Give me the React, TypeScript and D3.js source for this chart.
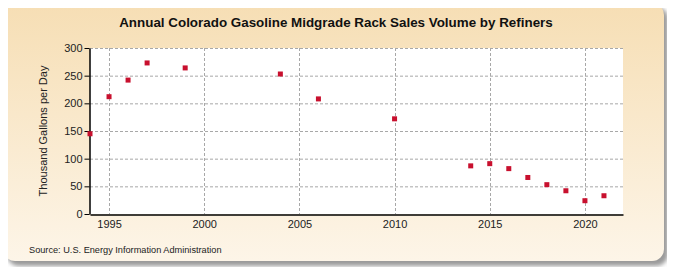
import React, { useEffect, useRef } from "react";
import * as d3 from "d3";

const years = [1994, 1995, 1996, 1997, 1999, 2004, 2006, 2010, 2014, 2015, 2016, 2017, 2018, 2019, 2020, 2021];
const volumes = [145, 212, 242, 273, 264, 253, 208, 172, 87, 91, 82, 66, 53, 42, 24, 33];
const yearTicks = [1995, 2000, 2005, 2010, 2015, 2020];
const valueTicks = [0, 50, 100, 150, 200, 250, 300];

const App = () => {
  const container = useRef<HTMLDivElement>(null);

  useEffect(() => {
    const width = 675;
    const height = 275;
    const marginLeft = 90;
    const marginRight = 52;
    const marginTop = 48;
    const marginBottom = 61;

    const x = d3.scaleLinear().domain([1994, 2022]).range([marginLeft, width - marginRight]);
    const y = d3.scaleLinear().domain([0, 300]).range([height - marginBottom, marginTop]);

    const svg = d3
      .select(container.current)
      .append("svg")
      .attr("width", width)
      .attr("height", height)
      .style("display", "block")
      .style("font-family", "Arial, 'Liberation Sans', sans-serif");

    const defs = svg.append("defs");
    const grad = defs
      .append("linearGradient")
      .attr("id", "bg")
      .attr("x1", 0)
      .attr("y1", 0)
      .attr("x2", 0)
      .attr("y2", 1);
    grad.append("stop").attr("offset", "0%").attr("stop-color", "#f6deb4");
    grad.append("stop").attr("offset", "100%").attr("stop-color", "#fdf5e8");
    const filt = defs.append("filter").attr("id", "blur");
    filt.append("feGaussianBlur").attr("stdDeviation", 2);

    // shadow + panel
    svg
      .append("rect")
      .attr("x", 7)
      .attr("y", 7)
      .attr("width", 661)
      .attr("height", 259)
      .attr("rx", 12)
      .attr("fill", "#9a9a9a")
      .attr("filter", "url(#blur)");
    svg
      .append("rect")
      .attr("x", 3)
      .attr("y", 3)
      .attr("width", 661)
      .attr("height", 258)
      .attr("rx", 12)
      .attr("fill", "url(#bg)");

    svg
      .append("rect")
      .attr("x", marginLeft)
      .attr("y", marginTop)
      .attr("width", width - marginRight - marginLeft)
      .attr("height", height - marginBottom - marginTop)
      .attr("fill", "white");

    // grid
    svg
      .append("g")
      .attr("stroke", "#a8a8a8")
      .attr("stroke-dasharray", "3,2")
      .selectAll("line.h")
      .data(valueTicks.filter((d) => d > 0))
      .join("line")
      .attr("x1", marginLeft)
      .attr("x2", width - marginRight)
      .attr("y1", (d) => y(d) + 0.5)
      .attr("y2", (d) => y(d) + 0.5);
    svg
      .append("g")
      .attr("stroke", "#a8a8a8")
      .attr("stroke-dasharray", "3,2")
      .selectAll("line")
      .data(yearTicks)
      .join("line")
      .attr("x1", (d) => Math.round(x(d)) + 0.5)
      .attr("x2", (d) => Math.round(x(d)) + 0.5)
      .attr("y1", marginTop)
      .attr("y2", height - marginBottom);

    // axes
    svg
      .append("g")
      .attr("transform", `translate(0,${height - marginBottom + 0.5})`)
      .call(d3.axisBottom(x).tickValues(yearTicks).tickFormat(d3.format("d")).tickSize(0).tickPadding(6))
      .call((g) => g.select(".domain").attr("stroke", "#000").attr("stroke-width", 1.5))
      .call((g) => g.selectAll("text").style("font-size", "11px").attr("fill", "#222"));

    svg
      .append("g")
      .attr("transform", `translate(${marginLeft - 0.5},0)`)
      .call(d3.axisLeft(y).tickValues(valueTicks).tickSize(5).tickSizeOuter(0).tickPadding(2))
      .call((g) => g.select(".domain").attr("stroke", "#000").attr("stroke-width", 1.5))
      .call((g) => g.selectAll("text").style("font-size", "11px").attr("fill", "#222"));

    // points
    svg
      .append("g")
      .attr("fill", "#c8102e")
      .selectAll("rect")
      .data(years.map((yr, i) => ({ yr, v: volumes[i] })))
      .join("rect")
      .attr("x", (d) => x(d.yr) - 2.5)
      .attr("y", (d) => y(d.v) - 2.5)
      .attr("width", 5)
      .attr("height", 5);

    svg
      .append("text")
      .attr("x", 336)
      .attr("y", 27)
      .attr("text-anchor", "middle")
      .style("font-size", "13.4px")
      .style("font-weight", "bold")
      .attr("fill", "#111")
      .text("Annual Colorado Gasoline Midgrade Rack Sales Volume by Refiners");

    svg
      .append("text")
      .attr("transform", `translate(47,${(marginTop + height - marginBottom) / 2}) rotate(-90)`)
      .attr("text-anchor", "middle")
      .style("font-size", "11px")
      .attr("fill", "#222")
      .text("Thousand Gallons per Day");

    svg
      .append("text")
      .attr("x", 29)
      .attr("y", 253)
      .style("font-size", "9.2px")
      .attr("fill", "#222")
      .text("Source: U.S. Energy Information Administration");

    return () => {
      svg.remove();
    };
  }, []);

  return <div ref={container} style={{ margin: -8 }}></div>;
};

export default App;
